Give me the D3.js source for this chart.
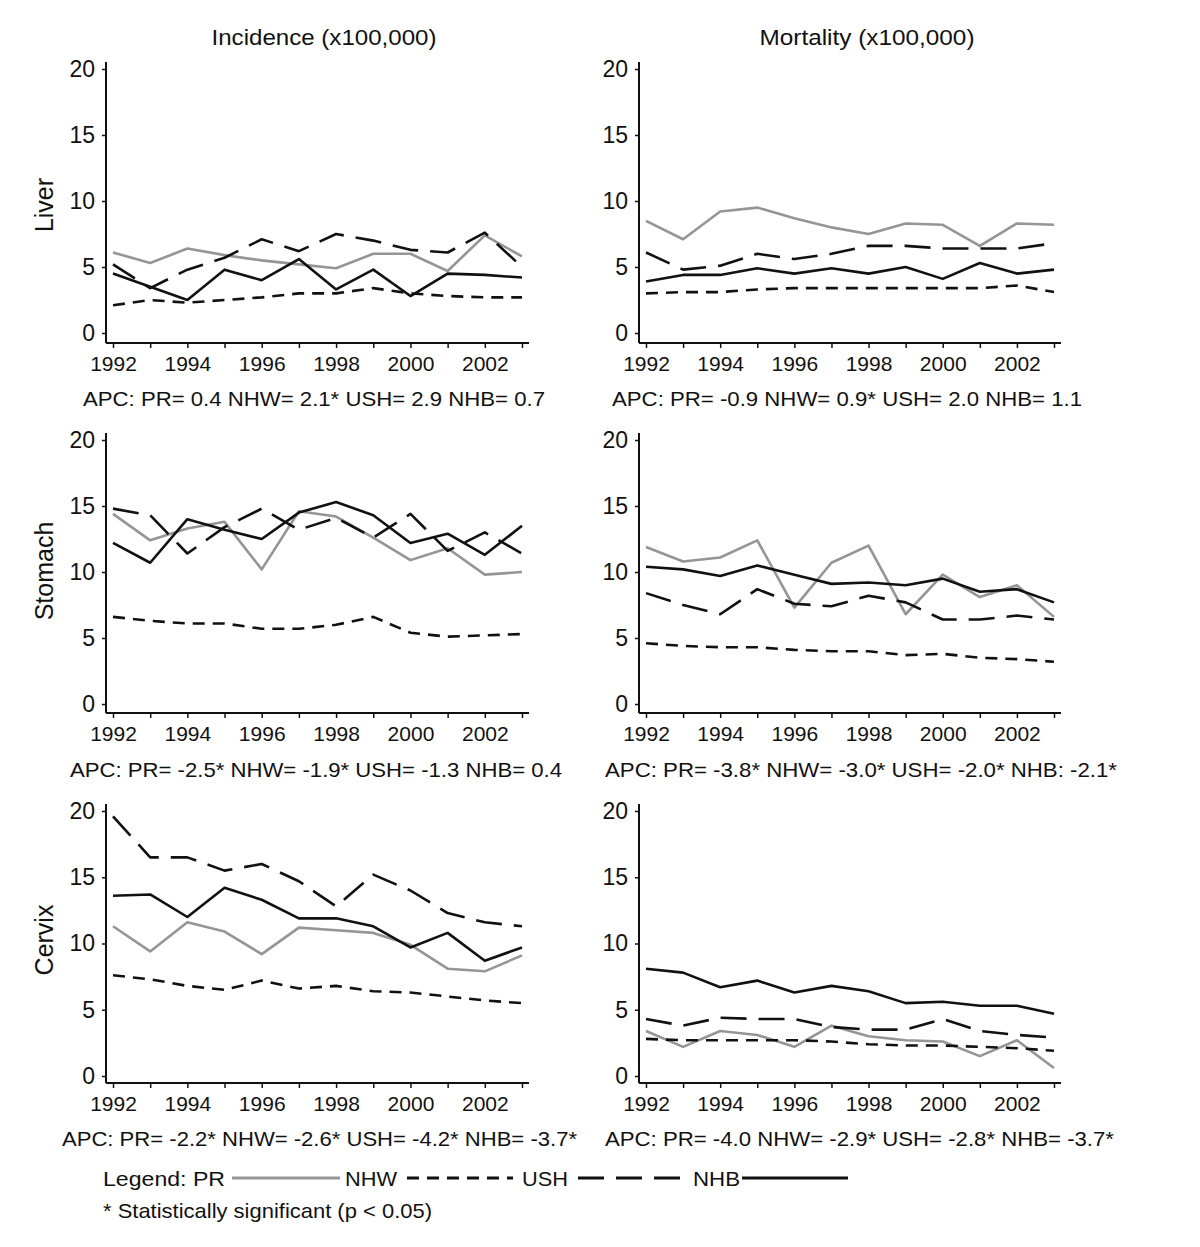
<!DOCTYPE html>
<html>
<head>
<meta charset="utf-8">
<script src="https://cdn.jsdelivr.net/npm/d3@7"></script>
<style>
  body { margin: 0; background: #fff; }
  svg { display: block; font-family: "Liberation Sans", Arial, sans-serif; }
</style>
</head>
<body>
<svg id="chart" width="1200" height="1247"></svg>
<script>
// ---------------- DATA ----------------
const years = [1992, 1993, 1994, 1995, 1996, 1997, 1998, 1999, 2000, 2001, 2002, 2003];
const yTicks = [0, 5, 10, 15, 20];
const seriesNames = ["PR", "NHW", "USH", "NHB"];
const columnTitles = ["Incidence (x100,000)", "Mortality (x100,000)"];
const rowTitles = ["Liver", "Stomach", "Cervix"];

// Liver
const liverIncPR  = [6.1, 5.3, 6.4, 5.9, 5.5, 5.2, 4.9, 6.0, 6.0, 4.7, 7.4, 5.8];
const liverIncNHW = [2.1, 2.5, 2.3, 2.5, 2.7, 3.0, 3.0, 3.4, 3.0, 2.8, 2.7, 2.7];
const liverIncUSH = [5.2, 3.4, 4.8, 5.7, 7.1, 6.2, 7.5, 7.0, 6.3, 6.1, 7.6, 5.0];
const liverIncNHB = [4.5, 3.5, 2.5, 4.8, 4.0, 5.6, 3.3, 4.8, 2.8, 4.5, 4.4, 4.2];

const liverMortPR  = [8.5, 7.1, 9.2, 9.5, 8.7, 8.0, 7.5, 8.3, 8.2, 6.6, 8.3, 8.2];
const liverMortNHW = [3.0, 3.1, 3.1, 3.3, 3.4, 3.4, 3.4, 3.4, 3.4, 3.4, 3.6, 3.1];
const liverMortUSH = [6.1, 4.8, 5.1, 6.0, 5.6, 6.0, 6.6, 6.6, 6.4, 6.4, 6.4, 6.8];
const liverMortNHB = [3.9, 4.4, 4.4, 4.9, 4.5, 4.9, 4.5, 5.0, 4.1, 5.3, 4.5, 4.8];

// Stomach
const stomIncPR  = [14.4, 12.4, 13.3, 13.8, 10.2, 14.6, 14.2, 12.6, 10.9, 11.8, 9.8, 10.0];
const stomIncNHW = [6.6, 6.3, 6.1, 6.1, 5.7, 5.7, 6.0, 6.6, 5.4, 5.1, 5.2, 5.3];
const stomIncUSH = [14.8, 14.3, 11.4, 13.4, 14.8, 13.2, 14.1, 12.6, 14.4, 11.6, 13.0, 11.4];
const stomIncNHB = [12.2, 10.7, 14.0, 13.2, 12.5, 14.5, 15.3, 14.3, 12.2, 12.9, 11.3, 13.5];

const stomMortPR  = [11.9, 10.8, 11.1, 12.4, 7.3, 10.7, 12.0, 6.8, 9.8, 8.1, 9.0, 6.6];
const stomMortNHW = [4.6, 4.4, 4.3, 4.3, 4.1, 4.0, 4.0, 3.7, 3.8, 3.5, 3.4, 3.2];
const stomMortUSH = [8.4, 7.5, 6.8, 8.7, 7.6, 7.4, 8.2, 7.7, 6.4, 6.4, 6.7, 6.4];
const stomMortNHB = [10.4, 10.2, 9.7, 10.5, 9.8, 9.1, 9.2, 9.0, 9.5, 8.5, 8.7, 7.7];

// Cervix
const cervIncPR  = [11.3, 9.4, 11.6, 10.9, 9.2, 11.2, 11.0, 10.8, 9.9, 8.1, 7.9, 9.1];
const cervIncNHW = [7.6, 7.3, 6.8, 6.5, 7.2, 6.6, 6.8, 6.4, 6.3, 6.0, 5.7, 5.5];
const cervIncUSH = [19.6, 16.5, 16.5, 15.5, 16.0, 14.7, 12.8, 15.2, 14.0, 12.3, 11.6, 11.3];
const cervIncNHB = [13.6, 13.7, 12.0, 14.2, 13.3, 11.9, 11.9, 11.3, 9.7, 10.8, 8.7, 9.7];

const cervMortPR  = [3.4, 2.2, 3.4, 3.1, 2.2, 3.8, 3.0, 2.7, 2.6, 1.5, 2.7, 0.6];
const cervMortNHW = [2.8, 2.7, 2.7, 2.7, 2.7, 2.6, 2.4, 2.3, 2.3, 2.2, 2.1, 1.9];
const cervMortUSH = [4.3, 3.8, 4.4, 4.3, 4.3, 3.7, 3.5, 3.5, 4.3, 3.4, 3.1, 2.9];
const cervMortNHB = [8.1, 7.8, 6.7, 7.2, 6.3, 6.8, 6.4, 5.5, 5.6, 5.3, 5.3, 4.7];

// APC annotations
const apcLiverInc  = "APC: PR= 0.4 NHW= 2.1* USH= 2.9 NHB= 0.7";
const apcLiverMort = "APC: PR= -0.9 NHW= 0.9* USH= 2.0 NHB= 1.1";
const apcStomInc   = "APC: PR= -2.5* NHW= -1.9* USH= -1.3 NHB= 0.4";
const apcStomMort  = "APC: PR= -3.8* NHW= -3.0* USH= -2.0* NHB: -2.1*";
const apcCervInc   = "APC: PR= -2.2* NHW= -2.6* USH= -4.2* NHB= -3.7*";
const apcCervMort  = "APC: PR= -4.0 NHW= -2.9* USH= -2.8* NHB= -3.7*";

const legendLabel = "Legend:";
const footnote = "* Statistically significant (p < 0.05)";

// ---------------- LAYOUT / STYLE ----------------
const svg = d3.select("#chart");
const FONT = '"Liberation Sans", Arial, sans-serif';

const styles = {
  PR:  { color: "#959595", dash: null },
  NHW: { color: "#111111", dash: "12,8" },
  USH: { color: "#111111", dash: "26,12" },
  NHB: { color: "#111111", dash: null }
};

const cols = [
  { axisX: 106, x0: 113, x1: 522, xEnd: 529, titleX: 324, titleLen: 225 },
  { axisX: 639, x0: 646, x1: 1054, xEnd: 1061, titleX: 867, titleLen: 215 }
];
const rows = [
  { y20: 69,  y0: 333,  axisY: 343,  labelY: 205, apcY: 406 },
  { y20: 440, y0: 704,  axisY: 713,  labelY: 571, apcY: 777 },
  { y20: 811, y0: 1076, axisY: 1083, labelY: 940, apcY: 1146 }
];

const panels = [
  { r: 0, c: 0, data: [liverIncPR, liverIncNHW, liverIncUSH, liverIncNHB], apc: apcLiverInc, apcX: 83, apcLen: 462 },
  { r: 0, c: 1, data: [liverMortPR, liverMortNHW, liverMortUSH, liverMortNHB], apc: apcLiverMort, apcX: 612, apcLen: 470 },
  { r: 1, c: 0, data: [stomIncPR, stomIncNHW, stomIncUSH, stomIncNHB], apc: apcStomInc, apcX: 70, apcLen: 492 },
  { r: 1, c: 1, data: [stomMortPR, stomMortNHW, stomMortUSH, stomMortNHB], apc: apcStomMort, apcX: 605, apcLen: 512 },
  { r: 2, c: 0, data: [cervIncPR, cervIncNHW, cervIncUSH, cervIncNHB], apc: apcCervInc, apcX: 62, apcLen: 515 },
  { r: 2, c: 1, data: [cervMortPR, cervMortNHW, cervMortUSH, cervMortNHB], apc: apcCervMort, apcX: 605, apcLen: 509 }
];

// Column titles
cols.forEach((c, i) => {
  svg.append("text")
    .attr("x", c.titleX).attr("y", 45)
    .attr("text-anchor", "middle")
    .attr("font-size", 22)
    .attr("textLength", c.titleLen).attr("lengthAdjust", "spacingAndGlyphs")
    .attr("fill", "#111")
    .text(columnTitles[i]);
});

// Row titles
rows.forEach((r, i) => {
  svg.append("text")
    .attr("transform", `translate(53,${r.labelY}) rotate(-90)`)
    .attr("text-anchor", "middle")
    .attr("font-size", 25)
    .attr("fill", "#111")
    .text(rowTitles[i]);
});

// Panels
panels.forEach(p => {
  const col = cols[p.c], row = rows[p.r];
  const x = d3.scaleLinear().domain([1992, 2003]).range([col.x0, col.x1]);
  const y = d3.scaleLinear().domain([0, 20]).range([row.y0, row.y20]);
  const g = svg.append("g");

  // axis lines
  g.append("line")
    .attr("x1", col.axisX).attr("x2", col.axisX)
    .attr("y1", row.y20 - 7).attr("y2", row.axisY)
    .attr("stroke", "#111").attr("stroke-width", 2);
  g.append("line")
    .attr("x1", col.axisX).attr("x2", col.xEnd)
    .attr("y1", row.axisY).attr("y2", row.axisY)
    .attr("stroke", "#111").attr("stroke-width", 2);

  // y axis ticks
  const yAxis = d3.axisLeft(y).tickValues(yTicks).tickSize(4).tickPadding(7).tickFormat(d3.format("d"));
  const ya = g.append("g").attr("transform", `translate(${col.axisX},0)`).call(yAxis);
  ya.select(".domain").remove();
  ya.selectAll("line").attr("stroke", "#111").attr("stroke-width", 1.5);
  ya.selectAll("text").attr("font-size", 23).attr("font-family", FONT).attr("fill", "#111");

  // x axis ticks
  const xAxis = d3.axisBottom(x).tickValues(years).tickSize(5).tickPadding(8)
    .tickFormat(d => (d % 2 === 0 ? String(d) : ""));
  const xa = g.append("g").attr("transform", `translate(0,${row.axisY})`).call(xAxis);
  xa.select(".domain").remove();
  xa.selectAll("line").attr("stroke", "#111").attr("stroke-width", 1.5);
  xa.selectAll("text").attr("font-size", 21).attr("font-family", FONT).attr("fill", "#111");

  // series lines
  const line = d3.line().x((d, i) => x(years[i])).y(d => y(d));
  p.data.forEach((vals, si) => {
    const st = styles[seriesNames[si]];
    g.append("path")
      .datum(vals)
      .attr("d", line)
      .attr("fill", "none")
      .attr("stroke", st.color)
      .attr("stroke-width", 2.6)
      .attr("stroke-linejoin", "round")
      .attr("stroke-dasharray", st.dash);
  });

  // APC text
  svg.append("text")
    .attr("x", p.apcX).attr("y", row.apcY)
    .attr("font-size", 21)
    .attr("textLength", p.apcLen).attr("lengthAdjust", "spacingAndGlyphs")
    .attr("fill", "#111")
    .text(p.apc);
});

// Legend
const legY = 1186, legLineY = 1178;
svg.append("text").attr("x", 103).attr("y", legY).attr("font-size", 21)
  .attr("textLength", 122).attr("lengthAdjust", "spacingAndGlyphs").attr("fill", "#111")
  .text(legendLabel + "  PR");
const legendItems = [
  { name: "PR",  line: [232, 340], label: null },
  { name: "NHW", line: [407, 513], label: [345, 52] },
  { name: "USH", line: [578, 685], label: [522, 46] },
  { name: "NHB", line: [742, 848], label: [693, 47] }
];
legendItems.forEach(it => {
  if (it.label) {
    svg.append("text").attr("x", it.label[0]).attr("y", legY).attr("font-size", 21)
      .attr("textLength", it.label[1]).attr("lengthAdjust", "spacingAndGlyphs").attr("fill", "#111")
      .text(it.name);
  }
  const st = styles[it.name];
  svg.append("line")
    .attr("x1", it.line[0]).attr("x2", it.line[1])
    .attr("y1", legLineY).attr("y2", legLineY)
    .attr("stroke", st.color).attr("stroke-width", 3)
    .attr("stroke-dasharray", st.dash);
});
svg.append("text").attr("x", 103).attr("y", 1218).attr("font-size", 21)
  .attr("textLength", 329).attr("lengthAdjust", "spacingAndGlyphs").attr("fill", "#111")
  .text(footnote);
</script>
</body>
</html>
